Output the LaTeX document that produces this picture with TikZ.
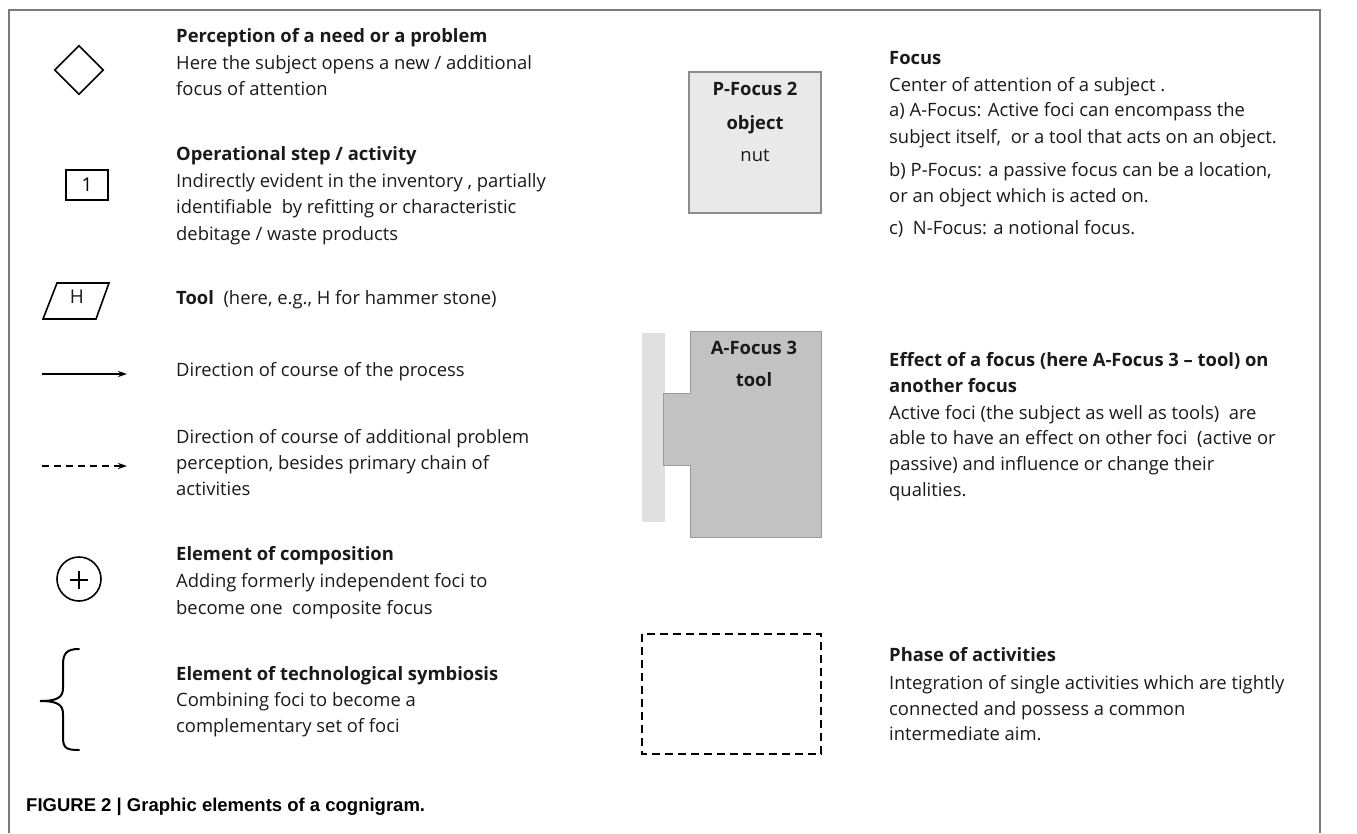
\documentclass[tikz,border=0pt]{standalone}
\usepackage{fontspec}
\setmainfont{Open Sans}
\newfontfamily\capfont{Liberation Sans}
\usetikzlibrary{arrows.meta,shapes.geometric}
\definecolor{framegray}{HTML}{7A7A7A}
\definecolor{pfill}{HTML}{E9E9E9}
\definecolor{pdraw}{HTML}{8C8C8C}
\definecolor{afill}{HTML}{C2C2C2}
\definecolor{adraw}{HTML}{9A9A9A}
\definecolor{stripfill}{HTML}{E0E0E0}
\definecolor{textcol}{HTML}{1A1A1A}
\begin{document}
\begin{tikzpicture}[x=1pt,y=-1pt,
  txt/.style={anchor=west, inner sep=0pt, text height=0.75em, text depth=0.25em, text=textcol, font=\fontsize{18.4}{22}\selectfont},
  ttl/.style={txt, font=\fontsize{18.4}{22}\selectfont\bfseries},
  ctr/.style={inner sep=0pt, text height=0.75em, text depth=0.25em, text=textcol},
  sym/.style={draw=black, line width=1.6pt},
  arr/.style={line width=1.6pt, -{Stealth[length=9pt,width=6pt]}}
]
\useasboundingbox (0,0) rectangle (1357,833);
% frame (open at bottom)
\draw[framegray, line width=2pt] (9,833) -- (9,10) -- (1320,10) -- (1320,833);

% ---------- left column symbols ----------
\node[sym, shape=diamond, inner sep=0pt, minimum width=49pt, minimum height=49pt] (dia) at (79,70) {};
\node[sym, rectangle, inner sep=0pt, minimum width=42pt, minimum height=30pt, font=\fontsize{19}{22}\selectfont] (step1) at (87,185) {1};
\draw[sym] (43,319) -- (57,283) -- (109,283) -- (96,319) -- cycle;
\node[ctr, font=\fontsize{19}{22}\selectfont] (hh) at (77,301) {H};
\coordinate (a1s) at (42,374); \coordinate (a1e) at (127,374);
\draw[arr] (a1s) -- (a1e);
\coordinate (a2s) at (42,466); \coordinate (a2e) at (127,466);
\draw[arr, dash pattern=on 7pt off 5pt] (a2s) -- (a2e);
\node[sym, circle, inner sep=0pt, minimum size=44pt] (plus) at (79,579) {};
\draw[line width=1.8pt] (70,580) -- (88,580) (79,571) -- (79,589);
\draw[line width=2pt, line cap=round] (79,649) .. controls (66,649) and (63,654) .. (63,665) -- (63,688) .. controls (63,697) and (58,701) .. (40,701) .. controls (58,701) and (63,705) .. (63,714) -- (63,737) .. controls (63,748) and (66,750) .. (79,750);

% ---------- left column texts ----------
\node[ttl] (l1a) at (176,40) {Perception of a need or a problem};
\node[txt] (l1b) at (176,67) {Here the subject opens a new / additional};
\node[txt] (l1c) at (176,93) {focus of attention};

\node[ttl] (l2a) at (176,158) {Operational step / activity};
\node[txt] (l2b) at (176,185) {Indirectly evident in the inventory , partially};
\node[txt] (l2c) at (176,211) {identifiable\ \ by refitting or characteristic};
\node[txt] (l2d) at (176,238) {debitage / waste products};

\node[txt] (l3a) at (176,302) {\textbf{Tool}\ \ (here, e.g., H for hammer stone)};

\node[txt] (l4a) at (176,374) {Direction of course of the process};

\node[txt] (l5a) at (176,441) {Direction of course of additional problem};
\node[txt] (l5b) at (176,467) {perception, besides primary chain of};
\node[txt] (l5c) at (176,493) {activities};

\node[ttl] (l6a) at (176,558) {Element of composition};
\node[txt] (l6b) at (176,585) {Adding formerly independent foci to};
\node[txt] (l6c) at (176,612) {become one\ \ composite focus};

\node[ttl] (l7a) at (176,678) {Element of technological symbiosis};
\node[txt] (l7b) at (176,704) {Combining foci to become a};
\node[txt] (l7c) at (176,730) {complementary set of foci};

\node[anchor=west, inner sep=0pt, text height=0.75em, text depth=0.25em, font=\capfont\bfseries\fontsize{18.5}{22}\selectfont] (cap) at (26,809) {FIGURE 2 | Graphic elements of a cognigram.};

% ---------- middle column ----------
\draw[fill=pfill, draw=pdraw, line width=1.5pt] (689,72) rectangle (821,213);
\node[ctr, font=\fontsize{18.4}{22}\selectfont\bfseries] (pf1) at (755,93) {P-Focus 2};
\node[ctr, font=\fontsize{18.4}{22}\selectfont\bfseries] (pf2) at (755,127) {object};
\node[ctr, font=\fontsize{18.4}{22}\selectfont] (pf3) at (755,159) {nut};

\fill[stripfill] (642,333) rectangle (665,522);
\draw[fill=afill, draw=adraw, line width=1pt] (690,331) -- (821,331) -- (821,537) -- (690,537) -- (690,465) -- (663,465) -- (663,393) -- (690,393) -- cycle;
\node[ctr, font=\fontsize{18.4}{22}\selectfont\bfseries] (af1) at (754,352) {A-Focus 3};
\node[ctr, font=\fontsize{18.4}{22}\selectfont\bfseries] (af2) at (754,384) {tool};

\draw[line width=2pt, dash pattern=on 8pt off 5pt] (642,634) rectangle (821,754);

% ---------- right column texts ----------
\node[ttl] (r1a) at (889,62) {Focus};
\node[txt] (r1b) at (889,89) {Center of attention of a subject .};
\node[txt] (r1c) at (889,114) {a) A-Focus: Active foci can encompass the};
\node[txt] (r1d) at (889,141) {subject itself,\ \ or a tool that acts on an object.};
\node[txt] (r1e) at (889,174) {b) P-Focus: a passive focus can be a location,};
\node[txt] (r1f) at (889,200) {or an object which is acted on.};
\node[txt] (r1g) at (889,232) {c)\ \ N-Focus: a notional focus.};

\node[ttl] (r2a) at (889,364) {Effect of a focus (here A-Focus 3 -- tool) on};
\node[ttl] (r2b) at (889,390) {another focus};
\node[txt] (r2c) at (889,417) {Active foci (the subject as well as tools)\ \ are};
\node[txt] (r2d) at (889,442) {able to have an effect on other foci\ \ (active or};
\node[txt] (r2e) at (889,468) {passive) and influence or change their};
\node[txt] (r2f) at (889,494) {qualities.};

\node[ttl] (r3a) at (889,659) {Phase of activities};
\node[txt] (r3b) at (889,687) {Integration of single activities which are tightly};
\node[txt] (r3c) at (889,713) {connected and possess a common};
\node[txt] (r3d) at (889,738) {intermediate aim.};
\end{tikzpicture}
\end{document}
